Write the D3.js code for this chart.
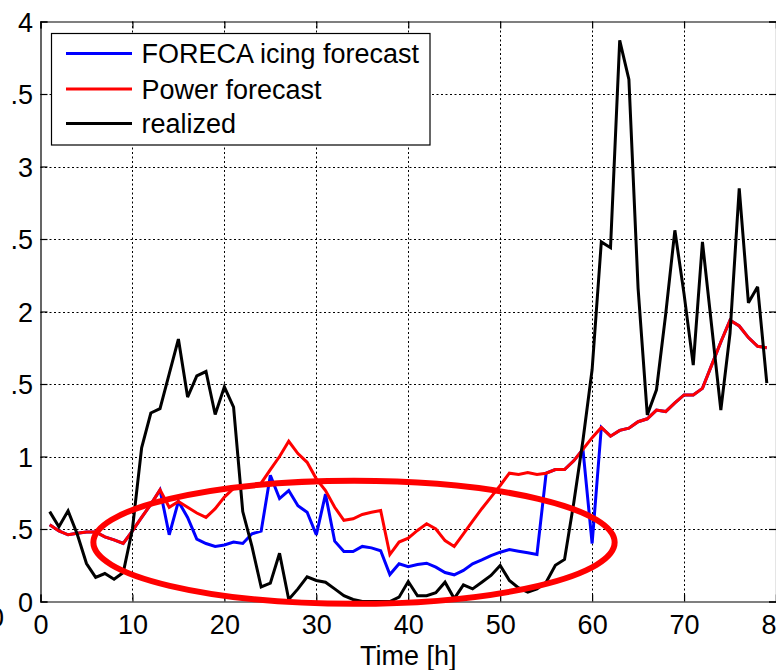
<!DOCTYPE html>
<html>
<head>
<meta charset="utf-8">
<script src="https://cdn.jsdelivr.net/npm/d3@7"></script>
<style>
  html, body { margin: 0; padding: 0; background: #fff; }
  svg { display: block; }
  text { font-family: Arial, "Liberation Sans", sans-serif; fill: #000; }
</style>
</head>
<body>
<svg id="chart" width="776" height="670"></svg>
<script>
// ---- data ----
const hours = d3.range(1, 80);
const realized = [0.62,0.515,0.625,0.464,0.262,0.166,0.193,0.154,0.20,0.50,
  1.06,1.30,1.33,1.57,1.81,1.41,1.556,1.586,1.29,1.48,
  1.34,0.62,0.38,0.10,0.126,0.333,0.014,0.087,0.17,0.145,
  0.133,0.087,0.04,0.014,0,0,0,0,0.03,0.138,
  0.04,0.04,0.06,0.133,0.02,0.115,0.087,0.133,0.18,0.248,
  0.145,0.094,0.064,0.087,0.133,0.25,0.29,0.68,1.11,1.6,
  2.48,2.44,3.87,3.60,2.16,1.287,1.46,1.98,2.56,2.12,
  1.63,2.48,1.9,1.32,1.85,2.85,2.06,2.17,1.506];
const powerForecast = [0.53,0.487,0.46,0.47,0.48,0.48,0.446,0.425,0.40,0.487,
  0.58,0.67,0.77,0.65,0.69,0.65,0.61,0.58,0.64,0.72,
  0.78,0.79,0.80,0.816,0.91,1.0,1.105,1.02,0.96,0.846,
  0.765,0.65,0.56,0.57,0.60,0.616,0.628,0.324,0.41,0.437,
  0.49,0.536,0.50,0.42,0.38,0.467,0.554,0.64,0.72,0.80,
  0.885,0.876,0.89,0.876,0.885,0.91,0.91,0.97,1.05,1.13,
  1.2,1.14,1.18,1.195,1.24,1.26,1.32,1.31,1.37,1.425,
  1.425,1.47,1.63,1.79,1.94,1.90,1.82,1.76,1.75];
const icingForecast = [0.53,0.487,0.46,0.47,0.48,0.48,0.446,0.425,0.40,0.487,
  0.58,0.67,0.77,0.46,0.69,0.58,0.43,0.40,0.38,0.39,
  0.41,0.40,0.467,0.485,0.87,0.71,0.765,0.66,0.616,0.46,
  0.74,0.416,0.345,0.345,0.38,0.37,0.35,0.186,0.26,0.24,
  0.255,0.264,0.237,0.20,0.184,0.214,0.26,0.287,0.317,0.34,
  0.359,0.347,0.336,0.324,0.885,0.91,0.91,0.97,1.05,0.40,
  1.2,1.14,1.18,1.195,1.24,1.26,1.32,1.31,1.37,1.425,
  1.425,1.47,1.63,1.79,1.94,1.90,1.82,1.76,1.75];
const seriesNames = ["FORECA icing forecast", "Power forecast", "realized"];
const seriesColors = ["#0000ff", "#ff0000", "#000000"];
const xTicks = [0,10,20,30,40,50,60,70,80];
const yTicks = [0,0.5,1,1.5,2,2.5,3,3.5,4];
const yTickLabels = ["0",".5","1",".5","2",".5","3",".5","4"];
const xLabel = "Time [h]";
// highlight ellipse annotation (data units): centre hour, centre value, radius hours, radius value
const ellipseAnno = {cx: 34.1, cy: 0.408, rx: 28.35, ry: 0.424};

// ---- layout ----
const FS = "27px";
const svg = d3.select("#chart");
const x = d3.scaleLinear().domain([0, 80]).range([40.5, 776]);
const y = d3.scaleLinear().domain([0, 4]).range([601.5, 21.5]);
const x0 = x(0), x1 = x(80), y0 = y(0), y1 = y(4);

// grid
const grid = svg.append("g");
grid.selectAll("line.vx").data(xTicks.filter(d => d > 0 && d < 80)).join("line")
  .attr("x1", d => Math.round(x(d)) + 0.5).attr("x2", d => Math.round(x(d)) + 0.5)
  .attr("y1", y1).attr("y2", y0)
  .attr("stroke", "#000").attr("stroke-width", 1).attr("stroke-dasharray", "2,2.5");
grid.selectAll("line.hy").data(yTicks.filter(d => d > 0 && d < 4)).join("line")
  .attr("y1", d => Math.round(y(d)) + 0.5).attr("y2", d => Math.round(y(d)) + 0.5)
  .attr("x1", x0).attr("x2", x1)
  .attr("stroke", "#000").attr("stroke-width", 1).attr("stroke-dasharray", "2,2.5");

// axes with inward ticks
const tickLen = 7;
const axB = svg.append("g").attr("transform", `translate(0,${y0})`)
  .call(d3.axisBottom(x).tickValues(xTicks).tickSize(-tickLen).tickPadding(13).tickFormat(d3.format("d")));
const axT = svg.append("g").attr("transform", `translate(0,${y1})`)
  .call(d3.axisTop(x).tickValues(xTicks).tickSize(-tickLen).tickFormat(""));
const axL = svg.append("g").attr("transform", `translate(${x0},0)`)
  .call(d3.axisLeft(y).tickValues(yTicks).tickSize(-tickLen).tickPadding(7.5)
    .tickFormat((d, i) => yTickLabels[i]));
const axR = svg.append("g").attr("transform", `translate(${x1},0)`)
  .call(d3.axisRight(y).tickValues(yTicks).tickSize(-tickLen).tickFormat(""));
[axB, axT, axL, axR].forEach(g => {
  g.select(".domain").attr("stroke", "#000").attr("stroke-width", 1.2);
  g.selectAll(".tick line").attr("stroke", "#000").attr("stroke-width", 1.2);
  g.selectAll("text").style("font-size", FS)
    .style("font-family", 'Arial, "Liberation Sans", sans-serif').attr("fill", "#000");
});
axB.selectAll("text").attr("dy", "0.71em");
axL.selectAll("text").attr("dy", "0.36em");

// clipped stray label at the far left edge
svg.append("text").attr("x", 4).attr("y", 627).attr("text-anchor", "end")
  .style("font-size", FS).text("0");

// x label
svg.append("text").attr("x", (x0 + x1) / 2).attr("y", 665).attr("text-anchor", "middle")
  .style("font-size", FS).text(xLabel);

// lines
const seriesData = [icingForecast, powerForecast, realized];
const line = d3.line().x((d, i) => x(hours[i])).y(d => y(d));
const plot = svg.append("g");
seriesData.forEach((s, k) => {
  plot.append("path").datum(s).attr("d", line)
    .attr("fill", "none").attr("stroke", seriesColors[k])
    .attr("stroke-width", 3).attr("stroke-linejoin", "miter").attr("stroke-miterlimit", 3);
});

// highlight ellipse
svg.append("ellipse")
  .attr("cx", x(ellipseAnno.cx)).attr("cy", y(ellipseAnno.cy))
  .attr("rx", x(ellipseAnno.rx) - x(0)).attr("ry", y(0) - y(ellipseAnno.ry))
  .attr("fill", "none").attr("stroke", "#ff0000").attr("stroke-width", 6);

// legend
const leg = svg.append("g");
leg.append("rect").attr("x", 51.5).attr("y", 33.5).attr("width", 378.5).attr("height", 111.5)
  .attr("fill", "#fff").attr("stroke", "#000").attr("stroke-width", 1.2);
const rowY = [53.5, 89, 123.5];
seriesNames.forEach((n, k) => {
  leg.append("line").attr("x1", 66).attr("x2", 132).attr("y1", rowY[k]).attr("y2", rowY[k])
    .attr("stroke", seriesColors[k]).attr("stroke-width", 3);
  leg.append("text").attr("x", 141.5).attr("y", rowY[k] + 9.5)
    .style("font-size", FS).text(n);
});
</script>
</body>
</html>
